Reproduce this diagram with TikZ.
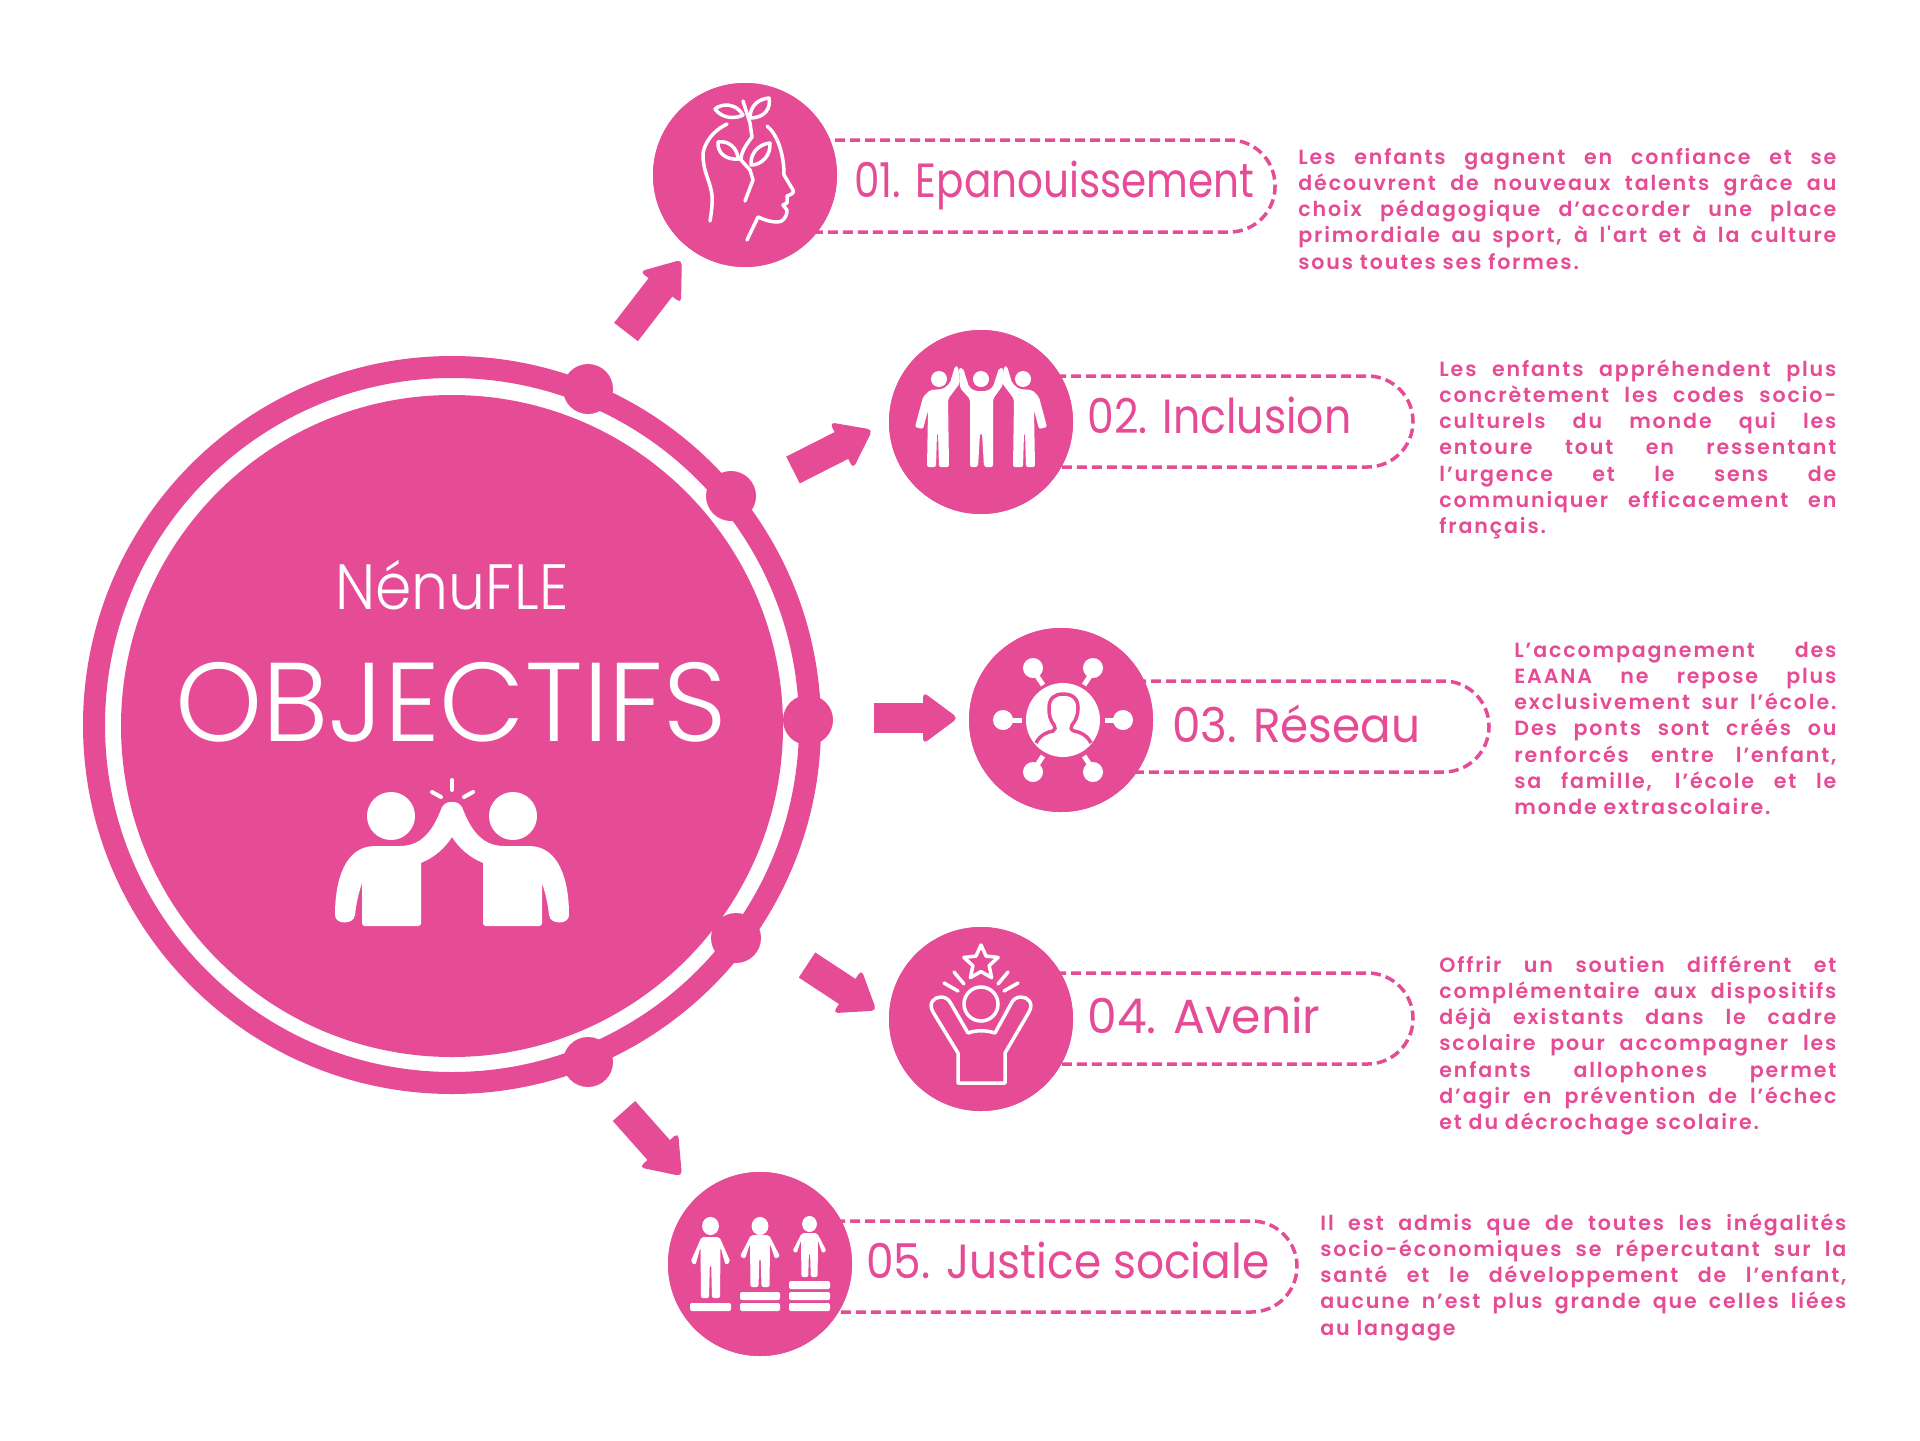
\documentclass[tikz,border=0pt]{standalone}
\usepackage{fontspec}
\usepackage{graphicx}
\usetikzlibrary{calc,shapes.geometric}
\setmainfont{Poppins}
\newfontfamily\bodyf{Poppins}[UprightFont=* SemiBold,LetterSpace=9]
\newfontfamily\lightf{Poppins}[UprightFont=* Light]
\newfontfamily\labf{Poppins}
\definecolor{pk}{HTML}{E64C96}
\tikzset{
  x=0.5pt,y=-0.5pt,
  disc/.style={circle,fill=pk,inner sep=0pt,minimum size=92pt},
  knob/.style={circle,fill=pk,inner sep=0pt,minimum size=25pt},
  pill/.style={draw=pk,line width=1.75pt,dash pattern=on 5pt off 2.5pt,rounded corners=22.75pt},
  lab/.style={anchor=base west,inner sep=0pt,text=pk},
  para/.style={anchor=base west,inner sep=0pt,text=pk},
  wline/.style={draw=white,line width=1.75pt,line cap=round,line join=round},
  wfill/.style={fill=white,rounded corners=1pt},
  wthick/.style={draw=white,line width=2pt,line cap=round},
}
\newlength\blockw
\newbox\fitbox
% set text to an exact width by horizontal scaling
\newcommand\fitw[2]{\setbox\fitbox\hbox{#2}\pgfmathsetmacro\fitr{#1/\the\wd\fitbox}\scalebox{\fitr}[1]{\box\fitbox}}
\newcommand\jl[1]{\hbox to\blockw{#1}}
\newcommand\lastl[1]{\hbox{#1}}
\newcommand\block[2]{\blockw=#1pt\relax\vtop{\hsize=\blockw\baselineskip=13.15pt\parindent=0pt\fontsize{10.3}{13.15}\bodyf #2}}
\newcommand\fatarrow[2]{%
  \path let \p1=($(#2)-(#1)$),\n1={atan2(\y1,\x1)},\n2={veclen(\x1,\y1)} in \pgfextra{\xdef\arang{\n1}\xdef\arlen{\n2}};
  \begin{scope}[shift={(#1)},rotate=\arang]
    \fill[pk] (0pt,-7.5pt) rectangle ({\arlen-14pt},7.5pt);
    \fill[pk,rounded corners=2.5pt] ({\arlen-16pt},-13pt) -- ({\arlen+1.5pt},0pt) -- ({\arlen-16pt},13pt) -- cycle;
  \end{scope}}
\newcommand\stick[6]{% cx, head cy, shoulder y, height, hr, width factor
  \fill[white] (#1,#2) ellipse[x radius=#5pt,y radius={#5pt*1.08}];
  \begin{scope}[shift={(#1,#3)},xscale=#6,yscale=#4/61]
    \fill[white,rounded corners=1pt] (-9,0) -- (9,0) -- (20,25) -- (15,28) -- (10,10) -- (9.5,61) -- (1.5,61) -- (0.7,28) -- (-0.7,28) -- (-1.5,61) -- (-9.5,61) -- (-10,10) -- (-15,28) -- (-20,25) -- cycle;
  \end{scope}}
\begin{document}
\begin{tikzpicture}
\useasboundingbox (0,0) rectangle (1920,1440);
\fill[white] (0,0) rectangle (1920,1440);

% dashed pills (behind the discs)
\node[disc] (c1) at (745,175) {};
\node[disc] (c2) at (981,422) {};
\node[disc] (c3) at (1061,720) {};
\node[disc] (c4) at (981,1019) {};
\node[disc] (c5) at (760,1264) {};
\draw[pill] (c1.center |- 0,140) -- (1275,140) -- (1275,232) -- (c1.center |- 0,232);
\draw[pill] (c2.center |- 0,376) -- (1413,376) -- (1413,467) -- (c2.center |- 0,467);
\draw[pill] (c3.center |- 0,681) -- (1489,681) -- (1489,772) -- (c3.center |- 0,772);
\draw[pill] (c4.center |- 0,973) -- (1413,973) -- (1413,1064) -- (c4.center |- 0,1064);
\draw[pill] (c5.center |- 0,1221) -- (1297,1221) -- (1297,1312) -- (c5.center |- 0,1312);
\node[disc] at (c1) {};
\node[disc] at (c2) {};
\node[disc] at (c3) {};
\node[disc] at (c4) {};
\node[disc] at (c5) {};

% hub
\node[circle,draw=pk,line width=11pt,inner sep=0pt,minimum size=358pt] (ring) at (452,725) {};
\node[circle,fill=pk,inner sep=0pt,minimum size=331pt] (hub) at (452,726) {};
\node[knob] (k1) at (588,389) {};
\node[knob] (k2) at (731,496) {};
\node[knob] (k3) at (808,720) {};
\node[knob] (k4) at (736,938) {};
\node[knob] (k5) at (588,1062) {};

% arrows
\coordinate (a1s) at (626,332); \coordinate (a1e) at (680,262);
\coordinate (a2s) at (793,470); \coordinate (a2e) at (870,431);
\coordinate (a3s) at (874,718); \coordinate (a3e) at (955,718);
\coordinate (a4s) at (807,965); \coordinate (a4e) at (874,1009);
\coordinate (a5s) at (624,1111); \coordinate (a5e) at (680,1174);
\fatarrow{a1s}{a1e}
\fatarrow{a2s}{a2e}
\fatarrow{a3s}{a3e}
\fatarrow{a4s}{a4e}
\fatarrow{a5s}{a5e}

% hub texts
\node[anchor=base west,inner sep=0pt,text=white] (t1) at (335,609) {\fitw{116.5}{\fontsize{32}{32}\lightf NénuFLE}};
\node[anchor=base west,inner sep=0pt,text=white] (t2) at (175,741) {\fitw{275.5}{\fontsize{56}{56}\lightf OBJECTIFS}};

% hub icon: high five
\fill[white] (391,816) circle[radius=24];
\fill[white] (513,816) circle[radius=24];
\foreach \m/\s in {0/1,904/-1}{
\begin{scope}[shift={(\m,0)},xscale=\s]
\fill[white] (452,802) .. controls (447,802) and (444,804) .. (442,807)
  .. controls (435,825) and (425,846) .. (400,846) -- (375,846)
  .. controls (345,846) and (335,880) .. (335,915)
  .. controls (335,925) and (354,925) .. (355,915)
  .. controls (356,905) and (358,895) .. (362,883) -- (362,923)
  .. controls (362,925) and (363,926) .. (365,926) -- (418,926)
  .. controls (420,926) and (421,925) .. (421,923) -- (421,863)
  .. controls (435,857) and (445,848) .. (452,837)
  .. controls (458,830) and (461,815) .. (462,808)
  .. controls (460,803) and (456,802) .. (452,802) -- cycle;
\end{scope}}
\draw[wthick] (452,780) -- (452,790);
\draw[wthick] (432,792) -- (441,797);
\draw[wthick] (473,792) -- (464,797);

% icon 1: head with plant
\draw[wline] (727,124) .. controls (707,134) and (703,150) .. (703,155)
  .. controls (703,172) and (710,180) .. (712,195) .. controls (713,205) and (710,221) .. (710,221);
\draw[wline] (767,126) .. controls (778,135) and (784,155) .. (784,175) -- (793,190)
  .. controls (795,193) and (790,195) .. (787,196) -- (787,203) -- (783,205) -- (787,210)
  .. controls (787,218) and (782,222) .. (778,222) .. controls (770,222) and (765,220) .. (758,217) -- (747,240);
\draw[wline] (743,101) -- (750,123) -- (752,137) .. controls (746,145) and (741,152) .. (741,160) -- (750,170) -- (753,180) -- (745,201);
\draw[wline] (741,160) -- (738,157);
\draw[wline] (715,109) .. controls (722,103) and (736,103) .. (743,115) .. controls (736,119) and (722,119) .. (715,109) -- cycle;
\draw[wline] (769,98) .. controls (771,108) and (765,118) .. (750,118) .. controls (750,106) and (758,99) .. (769,98) -- cycle;
\draw[wline] (718,142) .. controls (730,140) and (738,150) .. (738,159) .. controls (726,160) and (717,153) .. (718,142) -- cycle;
\draw[wline] (770,143) .. controls (771,155) and (762,165) .. (751,165) .. controls (750,153) and (759,144) .. (770,143) -- cycle;

% icon 2: three people
\fill[white] (939,379) circle[radius=8];
\fill[white] (981,379) circle[radius=8];
\fill[white] (1023,379) circle[radius=8];
\fill[wfill] (963,368) -- (969,387) -- (975,391) -- (987,391) -- (993,387) -- (999,368) -- (1003,368) -- (1003,385) -- (993,399) -- (993,467) -- (984,467) -- (982,433) -- (980,433) -- (978,467) -- (970,467) -- (970,399) -- (960,388) -- (959,368) -- cycle;
\foreach \m/\s in {0/1,1962/-1}{
\begin{scope}[shift={(\m,0)},xscale=\s]
\fill[wfill] (958,366) -- (960,383) -- (948,399) -- (949,467) -- (939,467) -- (938,433) -- (937,433) -- (936,467) -- (927,467) -- (928,410) -- (923,429) -- (915,427) -- (923,397) -- (930,390) -- (943,389) -- (950,383) -- (955,366) -- cycle;
\end{scope}}

% icon 3: network
\fill[white] (1063,720) circle[radius=37];
\draw[pk,line width=1.75pt] (1036,743) .. controls (1040,735) and (1047,732) .. (1053,731)
  .. controls (1055,730) and (1056,727) .. (1054,725) .. controls (1050,720) and (1049,715) .. (1049,708)
  .. controls (1049,698) and (1055,694) .. (1063,694) .. controls (1072,694) and (1078,698) .. (1078,708)
  .. controls (1078,715) and (1076,720) .. (1072,725) .. controls (1070,727) and (1071,730) .. (1074,731)
  .. controls (1080,732) and (1087,735) .. (1091,743);
\foreach \p in {(1003,720),(1123,720),(1033,668),(1093,668),(1033,772),(1093,772)}{\fill[white] \p circle[radius=10];}
\draw[white,line width=2.5pt] (1011,720) -- (1022,720);
\draw[white,line width=2.5pt] (1105,720) -- (1115,720);
\draw[white,line width=2.5pt] (1037,676) -- (1043,685);
\draw[white,line width=2.5pt] (1090,676) -- (1084,685);
\draw[white,line width=2.5pt] (1043,756) -- (1037,765);
\draw[white,line width=2.5pt] (1084,756) -- (1090,765);

% icon 4: raised arms and star
\node[star,star points=5,star point ratio=2.1,draw=white,line width=1.75pt,line join=round,inner sep=0pt,minimum size=18pt] (s4) at (981,963) {};
\draw[wline] (981,1004) circle[radius=17];
\draw[wline] (954,972) -- (964,984);
\draw[wline] (944,983) -- (958,991);
\draw[wline] (1008,972) -- (998,984);
\draw[wline] (1018,983) -- (1004,991);
\draw[wline] (958,1083) -- (958,1053) -- (933,1012) .. controls (928,1003) and (934,997) .. (941,997)
  .. controls (945,997) and (948,999) .. (950,1002) -- (968,1033) .. controls (976,1030) and (986,1030) .. (995,1033)
  -- (1012,1002) .. controls (1014,999) and (1017,997) .. (1021,997) .. controls (1028,997) and (1034,1003) .. (1029,1012)
  -- (1005,1053) -- (1005,1083) -- cycle;

% icon 5: three people on steps
\stick{710.5}{1226}{1237}{61}{4.2}{1}
\stick{760}{1226}{1235}{52}{4.2}{1}
\stick{809.5}{1224}{1233}{44}{3.7}{0.85}
\fill[wfill] (690,1303) rectangle (731,1311);
\fill[wfill] (740,1303) rectangle (780,1311);
\fill[wfill] (740,1292) rectangle (780,1300);
\fill[wfill] (789,1303) rectangle (830,1311);
\fill[wfill] (789,1292) rectangle (830,1300);
\fill[wfill] (789,1281) rectangle (830,1289);

% labels
\node[lab] (l1) at (854,197) {\fitw{200}{\fontsize{24}{24}\labf 01. Epanouissement}};
\node[lab] (l2) at (1087,433) {\fitw{132}{\fontsize{24}{24}\labf 02. Inclusion}};
\node[lab] (l3) at (1172,742) {\fitw{124}{\fontsize{24}{24}\labf 03. Réseau}};
\node[lab] (l4) at (1087,1033) {\fitw{116.5}{\fontsize{24}{24}\labf 04. Avenir}};
\node[lab] (l5) at (866,1278) {\fitw{201.5}{\fontsize{24}{24}\labf 05. Justice sociale}};

% paragraphs
\node[para] (p1) at (1298,164) {\block{269}{%
\jl{Les enfants gagnent en confiance et se}
\jl{découvrent de nouveaux talents grâce au}
\jl{choix pédagogique d’accorder une place}
\jl{primordiale au sport, à l'art et à la culture}
\lastl{sous toutes ses formes.}}};
\node[para] (p2) at (1439,376) {\block{198.5}{%
\jl{Les enfants appréhendent plus}
\jl{concrètement les codes socio-}
\jl{culturels du monde qui les}
\jl{entoure tout en ressentant}
\jl{l’urgence et le sens de}
\jl{communiquer efficacement en}
\lastl{français.}}};
\node[para] (p3) at (1514,657) {\block{161}{%
\jl{L’accompagnement des}
\jl{EAANA ne repose plus}
\jl{exclusivement sur l’école.}
\jl{Des ponts sont créés ou}
\jl{renforcés entre l’enfant,}
\jl{sa famille, l’école et le}
\lastl{monde extrascolaire.}}};
\node[para] (p4) at (1439,972) {\block{198.5}{%
\jl{Offrir un soutien différent et}
\jl{complémentaire aux dispositifs}
\jl{déjà existants dans le cadre}
\jl{scolaire pour accompagner les}
\jl{enfants allophones permet}
\jl{d’agir en prévention de l’échec}
\lastl{et du décrochage scolaire.}}};
\node[para] (p5) at (1320,1230) {\block{263}{%
\jl{Il est admis que de toutes les inégalités}
\jl{socio-économiques se répercutant sur la}
\jl{santé et le développement de l’enfant,}
\jl{aucune n’est plus grande que celles liées}
\lastl{au langage}}};
\end{tikzpicture}
\end{document}
